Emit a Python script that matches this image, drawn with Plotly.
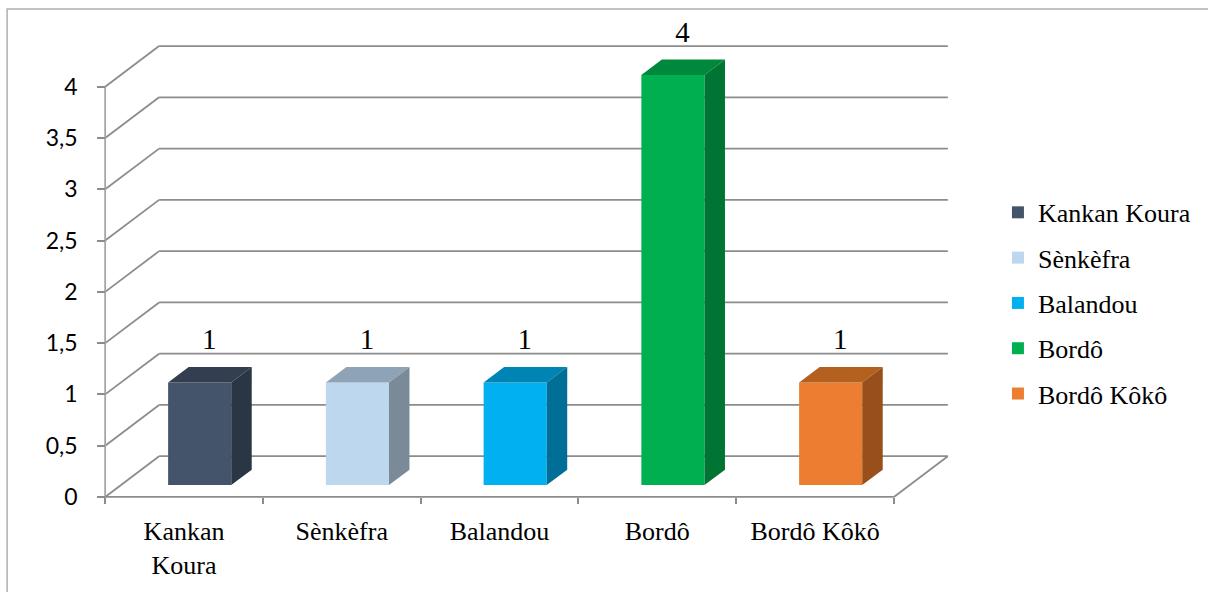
import plotly.graph_objects as go

# Data
categories = ["Kankan Koura", "Sènkèfra", "Balandou", "Bordô", "Bordô Kôkô"]
axis_labels = ["Kankan<br>Koura", "Sènkèfra", "Balandou", "Bordô", "Bordô Kôkô"]
values = [1, 1, 1, 4, 1]
tick_values = [0, 0.5, 1, 1.5, 2, 2.5, 3, 3.5, 4]

# Face colours per series: front, top, side
front_colors = ["#44546A", "#BDD7EE", "#00B0F0", "#00B050", "#ED7D31"]
top_colors = ["#333F50", "#8EA3B5", "#0084B4", "#00893D", "#B4601F"]
side_colors = ["#2B3645", "#7A8A99", "#006E96", "#007533", "#984F1C"]

# Pseudo-3D projection: depth 1 shifts by DX category units and DY value units
DX = 0.342
DY = 0.397
BAR_W = 0.40
D_FRONT = 0.29
D_BACK = 0.67
GRID = "#8C8C8C"

n = len(categories)
x_left, x_right = -0.5, n - 0.5
X_RANGE = [-0.52, x_right + DX + 0.02]
Y_RANGE = [-0.03, 4.7]

W, H = 1208, 592
M = dict(l=102, r=256, t=15, b=89)


def px_to_paper_x(px):
    return (px - M["l"]) / (W - M["l"] - M["r"])


def px_to_paper_y(py):
    return (H - M["b"] - py) / (H - M["t"] - M["b"])


fig = go.Figure()
shapes = []

# Walls: left side wall diagonals plus back wall gridlines
for v in tick_values:
    shapes.append(dict(type="line", xref="x", yref="y", layer="below",
                       x0=x_left, y0=v, x1=x_left + DX, y1=v + DY,
                       line=dict(color=GRID, width=1.8)))
    shapes.append(dict(type="line", xref="x", yref="y", layer="below",
                       x0=x_left + DX, y0=v + DY, x1=x_right + DX, y1=v + DY,
                       line=dict(color=GRID, width=1.8)))
# Floor right edge and front vertical axis
shapes.append(dict(type="line", xref="x", yref="y", layer="below",
                   x0=x_right + DX, y0=DY, x1=x_right, y1=0,
                   line=dict(color=GRID, width=1.8)))
shapes.append(dict(type="line", xref="x", yref="y", layer="below",
                   x0=x_left, y0=0, x1=x_left, y1=max(tick_values),
                   line=dict(color="#A6A6A6", width=1.8)))
# Chart frame
shapes.append(dict(type="rect", xref="paper", yref="paper",
                   x0=px_to_paper_x(7), y0=px_to_paper_y(H + 5),
                   x1=px_to_paper_x(W + 5), y1=px_to_paper_y(9),
                   line=dict(color="#B0B0B0", width=1.5), layer="below"))

# Front faces (bars) carry the legend entries
for i, (name, v) in enumerate(zip(categories, values)):
    fig.add_trace(go.Bar(
        x=[i + D_FRONT * DX], y=[v], base=[D_FRONT * DY], width=[BAR_W],
        name=name, legendgroup=name,
        marker=dict(color=front_colors[i], line=dict(width=0)),
        hoverinfo="name+y",
    ))

# Top and side faces
for i, v in enumerate(values):
    xl = i - BAR_W / 2
    xr = i + BAR_W / 2
    top_x = [xl + D_FRONT * DX, xr + D_FRONT * DX, xr + D_BACK * DX, xl + D_BACK * DX, xl + D_FRONT * DX]
    top_y = [v + D_FRONT * DY, v + D_FRONT * DY, v + D_BACK * DY, v + D_BACK * DY, v + D_FRONT * DY]
    fig.add_trace(go.Scatter(x=top_x, y=top_y, mode="lines", fill="toself",
                             fillcolor=top_colors[i], line=dict(width=0, color=top_colors[i]),
                             showlegend=False, hoverinfo="skip"))
    side_x = [xr + D_FRONT * DX, xr + D_BACK * DX, xr + D_BACK * DX, xr + D_FRONT * DX, xr + D_FRONT * DX]
    side_y = [D_FRONT * DY, D_BACK * DY, v + D_BACK * DY, v + D_FRONT * DY, D_FRONT * DY]
    fig.add_trace(go.Scatter(x=side_x, y=side_y, mode="lines", fill="toself",
                             fillcolor=side_colors[i], line=dict(width=0, color=side_colors[i]),
                             showlegend=False, hoverinfo="skip"))

# Value labels above each bar
fig.add_trace(go.Scatter(
    x=[i + 0.16 for i in range(n)], y=[v + 0.51 for v in values],
    mode="text", text=[str(v) for v in values], textposition="middle center",
    textfont=dict(family="Liberation Serif", size=29, color="#000000"),
    showlegend=False, hoverinfo="skip", cliponaxis=False,
))

# Floor front edge on the boundary-tick axis
boundaries = [x_left + k for k in range(n + 1)]
fig.add_trace(go.Scatter(
    x=[boundaries[0], boundaries[-1]], y=[0, 0], xaxis="x2", mode="lines",
    line=dict(color=GRID, width=1.8), showlegend=False, hoverinfo="skip",
))

y_span = Y_RANGE[1] - Y_RANGE[0]
x_span = X_RANGE[1] - X_RANGE[0]

fig.update_layout(
    width=W, height=H,
    margin=M,
    paper_bgcolor="white", plot_bgcolor="white",
    separators=", ",
    barmode="overlay",
    shapes=shapes,
    xaxis=dict(range=X_RANGE, tickvals=list(range(n)), ticktext=axis_labels,
               showgrid=False, zeroline=False, showline=False, ticks="",
               tickfont=dict(family="Liberation Serif", size=26, color="#000000"),
               ticklabelstandoff=13, fixedrange=True),
    xaxis2=dict(range=X_RANGE, overlaying="x", anchor="free",
                position=(0 - Y_RANGE[0]) / y_span,
                tickvals=boundaries, showticklabels=False, ticks="outside",
                ticklen=6, tickwidth=1.5, tickcolor=GRID,
                showgrid=False, zeroline=False, showline=False, fixedrange=True),
    yaxis=dict(range=Y_RANGE, tickvals=tick_values, anchor="free",
               position=(x_left - X_RANGE[0]) / x_span,
               ticks="outside", ticklen=8, tickwidth=1.5, tickcolor=GRID,
               showgrid=False, zeroline=False, showline=False,
               tickfont=dict(family="Lato", size=23, color="#000000"),
               ticklabelstandoff=15, fixedrange=True),
    legend=dict(x=px_to_paper_x(999), xanchor="left", y=px_to_paper_y(190), yanchor="top",
                font=dict(family="Liberation Serif", size=26, color="#000000"),
                tracegroupgap=8.5, bgcolor="rgba(0,0,0,0)"),
    showlegend=True,
)

fig.write_html("out.html")
